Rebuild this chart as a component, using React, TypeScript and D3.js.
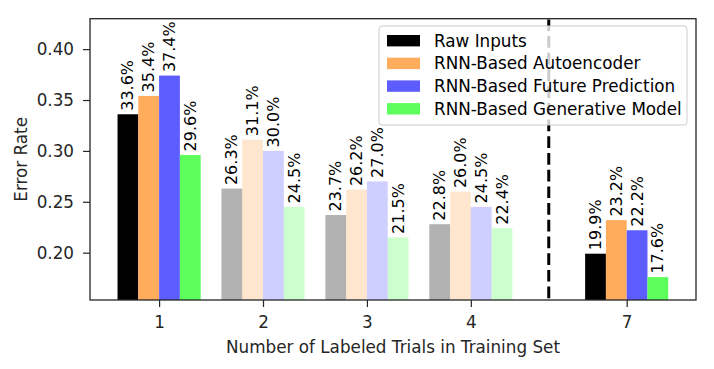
import React, { useRef, useEffect } from 'react';
import * as d3 from 'd3';

const groups = ['1', '2', '3', '4', '7'];
const groupPos = [0, 1, 2, 3, 4.5];
const series = [
  'Raw Inputs',
  'RNN-Based Autoencoder',
  'RNN-Based Future Prediction',
  'RNN-Based Generative Model'
];
const colors = ['#000000', '#ffad5c', '#5c5cff', '#5cff5c'];
const rawInputs = [0.336, 0.263, 0.237, 0.228, 0.199];
const autoencoder = [0.354, 0.311, 0.262, 0.260, 0.232];
const futurePred = [0.374, 0.300, 0.270, 0.245, 0.222];
const generative = [0.296, 0.245, 0.215, 0.224, 0.176];
const fadedGroups = ['2', '3', '4'];
const yTicks = [0.20, 0.25, 0.30, 0.35, 0.40];
const dividerPos = 3.75;

const App = () => {
  const ref = useRef<SVGSVGElement>(null);

  useEffect(() => {
    const width = 714;
    const height = 369;
    const left = 90, right = 696, top = 18.7, bottom = 300;
    const font = 'DejaVu Sans';
    const fs = 16.8;
    const labelFs = 16;
    const values = [rawInputs, autoencoder, futurePred, generative];

    const svg = d3.select(ref.current);
    svg.selectAll('*').remove();
    svg.attr('width', width).attr('height', height);

    const x = d3.scaleLinear().domain([-0.665, 5.167]).range([left, right]);
    const y = d3.scaleLinear().domain([0.1535, 0.4299]).range([bottom, top]);
    const barW = x(0.2) - x(0);

    // bars + value labels
    const g = svg.append('g');
    groups.forEach((grp, gi) => {
      const faded = fadedGroups.includes(grp);
      values.forEach((vals, si) => {
        const v = vals[gi];
        const bx = x(groupPos[gi] - 0.4 + si * 0.2);
        g.append('rect')
          .attr('x', bx)
          .attr('y', y(v))
          .attr('width', barW)
          .attr('height', bottom - y(v))
          .attr('fill', colors[si])
          .attr('fill-opacity', faded ? 0.3 : 1);
        g.append('text')
          .attr('transform', `translate(${bx + barW / 2},${y(v) - 3.5}) rotate(-90)`)
          .attr('dominant-baseline', 'central')
          .attr('font-family', font)
          .attr('font-size', labelFs)
          .attr('fill', '#000')
          .text((v * 100).toFixed(1) + '%');
      });
    });

    // dashed divider
    svg.append('line')
      .attr('x1', x(dividerPos)).attr('x2', x(dividerPos))
      .attr('y1', bottom).attr('y2', top)
      .attr('stroke', '#000')
      .attr('stroke-width', 3)
      .attr('stroke-dasharray', '11.7,5')
      .attr('stroke-dashoffset', -1.7);

    // axes
    const yAxis = svg.append('g')
      .attr('transform', `translate(${left},0)`)
      .call(d3.axisLeft(y).tickValues(yTicks).tickFormat(d3.format('.2f')).tickSizeOuter(0).tickSize(7).tickPadding(9));
    const xAxis = svg.append('g')
      .attr('transform', `translate(0,${bottom})`)
      .call(d3.axisBottom(x).tickValues(groupPos).tickFormat((d, i) => groups[i]).tickSizeOuter(0).tickSize(7).tickPadding(9));
    [xAxis, yAxis].forEach(a => {
      a.select('.domain').remove();
      a.selectAll('line').attr('stroke', '#262626').attr('stroke-width', 1.2);
      a.selectAll('text').attr('font-family', font).attr('font-size', fs).attr('fill', '#262626');
    });

    svg.append('rect')
      .attr('x', left).attr('y', top)
      .attr('width', right - left).attr('height', bottom - top)
      .attr('fill', 'none')
      .attr('stroke', '#262626')
      .attr('stroke-width', 1.3);

    svg.append('text')
      .attr('x', (left + right) / 2).attr('y', 353.3)
      .attr('text-anchor', 'middle')
      .attr('font-family', font).attr('font-size', fs).attr('fill', '#262626')
      .text('Number of Labeled Trials in Training Set');
    svg.append('text')
      .attr('transform', `translate(26.7,${(top + bottom) / 2}) rotate(-90)`)
      .attr('text-anchor', 'middle')
      .attr('font-family', font).attr('font-size', fs).attr('fill', '#262626')
      .text('Error Rate');

    // legend
    const lg = svg.append('g');
    lg.append('rect')
      .attr('x', 379).attr('y', 26).attr('width', 308).attr('height', 99)
      .attr('rx', 3)
      .attr('fill', '#fff').attr('fill-opacity', 0.8)
      .attr('stroke', '#cccccc').attr('stroke-width', 1);
    series.forEach((s, i) => {
      const cy = 40.7 + i * 22.7;
      lg.append('rect')
        .attr('x', 387).attr('y', cy - 5.7).attr('width', 33).attr('height', 11.4)
        .attr('fill', colors[i]);
      lg.append('text')
        .attr('x', 434).attr('y', cy)
        .attr('dominant-baseline', 'central')
        .attr('font-family', font).attr('font-size', fs).attr('fill', '#000')
        .text(s);
    });
  }, []);

  return <svg ref={ref} style={{ position: 'absolute', left: 0, top: 0 }}></svg>;
};

export default App;
